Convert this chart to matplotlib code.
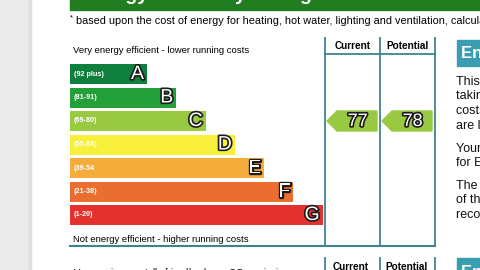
import matplotlib
matplotlib.use("Agg")
import matplotlib.pyplot as plt
import matplotlib.patheffects as pe
from matplotlib.patches import Polygon, Rectangle

# EPC bands
bands = ['A', 'B', 'C', 'D', 'E', 'F', 'G']
ranges = ['(92 plus)', '(81-91)', '(69-80)', '(55-68)', '(39-54', '(21-38)', '(1-20)']
band_low = [92, 81, 69, 55, 39, 21, 1]
band_colors = ['#0f7f3d', '#24a03a', '#98c940', '#f7ef39', '#f4ad3b', '#eb6e31', '#e4312d']
current = 77
potential = 78

top_text = 'Very energy efficient - lower running costs'
bottom_text = 'Not energy efficient - higher running costs'
footnote = 'based upon the cost of energy for heating, hot water, lighting and ventilation, calculated'
side_lines = [
    'This graph shows the current energy efficiency of your home,',
    'taking into account both energy efficiency and fuel',
    'costs. The higher this rating, the lower your fuel bills',
    'are likely to be.',
    'Your current rating is band C (77). The average rating',
    'for EPCs in England and Wales is band D (60).',
    'The potential rating shows the effect of undertaking all',
    'of the improvement measures listed within your',
    'recommendations report.',
]

plt.rcParams['font.family'] = ['Liberation Sans', 'DejaVu Sans']
fig = plt.figure(figsize=(4.81, 2.70), dpi=100)
ax = fig.add_axes([0, 0, 1, 1])
ax.set_xlim(0, 481)
ax.set_ylim(270, 0)
ax.axis('off')

line_col = '#3f8391'
teal = '#3a9db2'

# page background / grey margin
ax.add_patch(Rectangle((0, 0), 29, 270, color='#ebebeb', zorder=0))
ax.add_patch(Rectangle((29, 0), 2, 270, color='#dedede', zorder=0))

# green title bar (cropped, only descenders show)
ax.add_patch(Rectangle((70, -5), 420, 15, color='#217d1f', zorder=1))
ax.text(82, 0.3, 'Energy Efficiency Rating', color='white', fontsize=14,
        fontweight='bold', va='baseline', zorder=2)

ax.text(70, 17.5, '*', fontsize=5.5, va='center')
ax.text(76, 21.5, footnote, fontsize=7.8, va='center')

# rating bars
row_top = 64
pitch = 23.5
bar_h = 20
outline = [pe.withStroke(linewidth=2.4, foreground='#1c1c1c')]
for i, (b, r, c) in enumerate(zip(bands, ranges, band_colors)):
    yc = row_top + i * pitch + bar_h / 2
    w = 77 + i * 29.3
    ax.barh(yc, w, left=70, height=bar_h, color=c, zorder=2)
    ax.text(74, yc, r, color='white', fontsize=5.2, fontweight='bold',
            va='center', zorder=3)
    ax.text(70 + w - 3, yc + 0.5, b, color='white', fontsize=14,
            ha='right', va='center', zorder=3, path_effects=outline)

ax.text(73, 50.5, top_text, fontsize=6.8, va='center')
ax.text(73, 239, bottom_text, fontsize=6.8, va='center')


def band_of(v):
    for i, lo in enumerate(band_low):
        if v >= lo:
            return i
    return len(band_low) - 1


# current / potential columns
cols = [(325, 380, 'Current', current), (380, 435, 'Potential', potential)]
for x0, x1, label, val in cols:
    ax.text((x0 + x1) / 2, 46, label, fontsize=7.2, fontweight='bold',
            ha='center', va='center')
    i = band_of(val)
    yc = row_top + i * pitch + bar_h / 2
    ax.add_patch(Polygon([(x0 + 2, yc), (x0 + 12, yc - 10), (x1 - 3, yc - 10),
                          (x1 - 3, yc + 10), (x0 + 12, yc + 10)],
                         closed=True, color=band_colors[i], zorder=2))
    ax.text((x0 + x1) / 2 + 5, yc + 0.5, str(val), color='white', fontsize=13,
            ha='center', va='center', zorder=3, path_effects=outline)

for x in (325, 380, 435):
    ax.plot([x, x], [38, 246], color=line_col, lw=1.3, zorder=2)
    ax.plot([x, x], [258, 272], color=line_col, lw=1.3, zorder=2)
ax.plot([325, 435], [54, 54], color=line_col, lw=1.3, zorder=2)
ax.plot([70, 435], [246, 246], color=line_col, lw=1.5, zorder=2)

# next section (cropped at bottom)
ax.text(351, 266.5, 'Current', fontsize=7.2, fontweight='bold', ha='center', va='center')
ax.text(407, 266.5, 'Potential', fontsize=7.2, fontweight='bold', ha='center', va='center')
ax.text(73, 272.5, 'Very environmentally friendly - lower CO$_2$ emissions',
        fontsize=6.8, va='center')

# side panel
ax.add_patch(Rectangle((457, 40), 40, 26, color=teal, zorder=1))
ax.text(461, 53.5, 'Energy Efficiency Rating', color='white', fontsize=12,
        fontweight='bold', va='center', zorder=2)
ax.add_patch(Rectangle((457, 258), 40, 20, color=teal, zorder=1))
ax.text(461, 272, 'Environmental Impact', color='white', fontsize=12,
        fontweight='bold', va='center', zorder=2)
side_y = [82, 96, 111, 126, 149, 163, 186, 200, 215]
for t, y in zip(side_lines, side_y):
    ax.text(456, y, t, fontsize=9, va='center', color='#111111')

fig.savefig('out.png', dpi=100)
